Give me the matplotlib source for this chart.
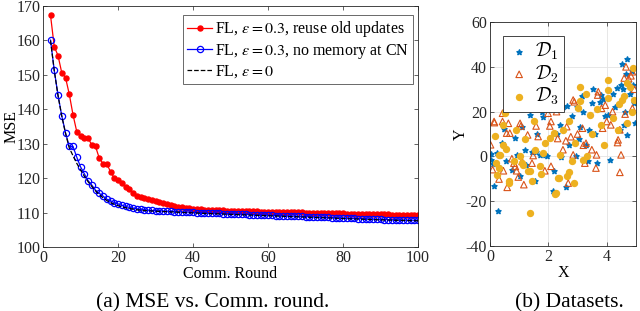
import matplotlib
matplotlib.use("Agg")
import matplotlib.pyplot as plt
from matplotlib.font_manager import FontProperties

plt.rcParams["font.family"] = ["Liberation Serif", "DejaVu Serif"]
plt.rcParams["mathtext.fontset"] = "stix"
plt.rcParams["axes.unicode_minus"] = False
plt.rcParams["font.size"] = 11.5

# ---- (a) MSE vs communication round ----
rounds = list(range(2, 101))

mse_reuse = [167.3, 158.2, 155.6, 150.6, 149.2, 144.4, 138.4, 133.5, 132.1, 131.8,
             131.6, 129.7, 129.2, 125.8, 124.2, 124.1, 121.9, 120.0, 119.5, 118.7,
             117.3, 116.8, 115.8, 114.9, 114.5, 114.2, 113.9, 113.6, 113.3, 113.0,
             112.7, 112.4, 112.1, 111.9, 111.7, 111.5, 111.3, 111.2, 111.1, 111.0,
             110.9, 110.85, 110.8, 110.75, 110.7, 110.65, 110.6, 110.55, 110.5, 110.48,
             110.45, 110.42, 110.4, 110.37, 110.34, 110.32, 110.3, 110.27, 110.25, 110.22,
             110.2, 110.17, 110.14, 110.12, 110.1, 110.07, 110.04, 110.02, 110.0, 109.97,
             109.94, 109.92, 109.9, 109.87, 109.84, 109.82, 109.8, 109.77, 109.74, 109.72,
             109.7, 109.67, 109.64, 109.62, 109.6, 109.57, 109.54, 109.52, 109.5, 109.47,
             109.44, 109.42, 109.4, 109.37, 109.34, 109.32, 109.3, 109.27, 109.25]

mse_nomem = [160.1, 151.3, 144.1, 138.1, 133.2, 129.2, 129.2, 126.1, 123.3, 121.3,
             119.3, 118.0, 116.5, 115.6, 114.8, 113.9, 113.4, 112.9, 112.5, 112.1,
             111.8, 111.5, 111.3, 111.1, 110.9, 110.8, 110.7, 110.6, 110.55, 110.5,
             110.45, 110.4, 110.35, 110.3, 110.25, 110.2, 110.15, 110.1, 110.05, 110.0,
             109.95, 109.9, 109.86, 109.82, 109.78, 109.74, 109.7, 109.66, 109.62, 109.58,
             109.54, 109.5, 109.46, 109.42, 109.38, 109.34, 109.3, 109.26, 109.22, 109.18,
             109.14, 109.1, 109.06, 109.02, 108.98, 108.94, 108.9, 108.86, 108.82, 108.78,
             108.74, 108.7, 108.66, 108.62, 108.58, 108.54, 108.5, 108.46, 108.42, 108.38,
             108.34, 108.3, 108.26, 108.22, 108.18, 108.14, 108.1, 108.06, 108.02, 107.98,
             107.95, 107.92, 107.89, 107.86, 107.83, 107.8, 107.78, 107.76, 107.74]

mse_ideal = [160.0, 151.2, 144.0, 138.0, 133.0, 128.8, 126.5, 124.3, 122.4, 120.6,
             119.0, 117.6, 116.3, 115.2, 114.3, 113.5, 112.9, 112.4, 112.0, 111.7,
             111.4, 111.2, 111.0, 110.8, 110.7, 110.6, 110.5, 110.45, 110.4, 110.35,
             110.3, 110.25, 110.2, 110.15, 110.1, 110.05, 110.0, 109.95, 109.9, 109.85,
             109.8, 109.76, 109.72, 109.68, 109.64, 109.6, 109.56, 109.52, 109.48, 109.44,
             109.4, 109.36, 109.32, 109.28, 109.24, 109.2, 109.16, 109.12, 109.08, 109.04,
             109.0, 108.96, 108.92, 108.88, 108.84, 108.8, 108.76, 108.72, 108.68, 108.64,
             108.6, 108.56, 108.52, 108.48, 108.44, 108.4, 108.36, 108.32, 108.28, 108.24,
             108.2, 108.16, 108.12, 108.08, 108.04, 108.0, 107.96, 107.92, 107.88, 107.85,
             107.82, 107.79, 107.76, 107.73, 107.7, 107.68, 107.66, 107.64, 107.62]

# ---- (b) datasets ----
d1_x = [0.02, 0.11, 0.14, 0.28, 0.25, 0.05, 0.35, 0.48, 0.55, 0.86, 0.91, 1.03, 1.09, 1.20, 1.37,
        1.45, 1.54, 1.58, 1.71, 1.77, 1.83, 1.88, 1.94, 2.05, 2.17, 2.20, 2.30, 2.45, 2.50, 2.59,
        2.65, 2.70, 2.80, 2.95, 2.97, 3.05, 3.08, 3.15, 3.20, 3.37, 3.40, 3.50, 3.52, 3.60, 3.65,
        3.77, 3.82, 3.88, 3.95, 4.05, 4.11, 4.20, 4.30, 4.34, 4.45, 4.50, 4.54, 4.56, 4.62, 4.66,
        4.68, 4.68, 4.74, 4.80, 4.90, 4.97, 4.95, 4.60, 1.25, 0.75, 2.40, 3.30, 1.60, 0.40, 4.85]
d1_y = [-1.5, -3.4, -13.3, -24.4, 1.5, 1.0, -5.0, 12.3, -2.0, 8.1, 0.7, -8.9, 13.3, 3.0, 18.5,
        2.0, -11.1, 1.9, 0.7, 20.0, 17.8, 0.7, 0.4, 25.0, -15.6, -6.4, 10.0, -0.4, 22.0, -13.8,
        22.7, 5.0, 18.0, 0.4, 22.2, 8.0, 13.3, 27.0, 20.0, -2.2, 12.0, 24.0, 30.0, 10.0, -3.0,
        24.4, 27.4, 25.5, 18.0, 18.5, -1.5, 28.0, 22.0, 30.4, 11.9, 32.0, 41.5, 30.0, 20.0, 36.7,
        9.6, 43.7, 32.6, 28.0, 32.0, 14.8, 24.0, 14.0, -4.0, -6.0, 14.0, 5.0, 10.0, 6.0, 38.0]

d2_x = [0.02, 0.09, 0.14, 0.15, 0.31, 0.43, 0.43, 0.46, 0.57, 0.59, 0.63, 0.68, 0.82, 0.87, 0.91,
        0.97, 1.03, 1.06, 1.16, 1.29, 1.44, 1.48, 1.58, 1.65, 1.88, 1.99, 2.05, 2.09, 2.09, 2.28,
        2.32, 2.60, 2.63, 2.68, 2.77, 2.85, 2.85, 2.89, 3.17, 3.20, 3.25, 3.29, 3.49, 3.63, 3.65,
        3.69, 3.71, 3.82, 3.86, 3.95, 4.00, 4.14, 4.37, 4.39, 4.45, 4.45, 4.49, 4.60, 4.63, 4.66,
        4.75, 4.83, 4.88, 4.88, 4.95, 1.10, 0.75, 2.50, 3.00, 4.20]
d2_y = [5.2, -5.9, 15.6, 15.1, -10.1, 15.6, 19.3, -6.4, 10.4, -13.8, 14.8, 10.4, -3.0, -4.5, -6.4,
        -9.2, 14.8, 13.6, -12.6, 9.6, -3.0, 0.4, 13.6, 8.9, -6.4, 19.3, 13.6, -4.4, 15.6, 20.0,
        8.0, 7.0, 13.3, -11.9, 8.8, 0.7, 25.2, 24.4, 12.6, 5.0, -3.0, 5.9, 3.0, -5.2, 0.7,
        27.4, 28.9, 21.5, 12.6, 22.9, 15.6, 14.1, 6.2, 7.4, 11.9, -7.1, 0.7, 35.0, 18.9, 40.0,
        34.8, 36.0, 37.8, 21.5, 30.0, -2.2, -1.0, 3.0, 10.0, 20.0]

d3_x = [0.17, 0.25, 0.31, 0.32, 0.34, 0.43, 0.43, 0.51, 0.51, 0.56, 0.64, 0.66, 0.82, 1.03, 1.08,
        1.14, 1.31, 1.37, 1.37, 1.43, 1.54, 1.65, 1.71, 1.83, 1.90, 2.00, 2.05, 2.19, 2.23, 2.26,
        2.34, 2.37, 2.40, 2.63, 2.70, 2.70, 2.80, 2.88, 3.02, 3.08, 3.10, 3.20, 3.29, 3.31, 3.42,
        3.50, 3.67, 3.80, 4.05, 4.05, 4.05, 4.20, 4.43, 4.51, 4.60, 4.68, 4.80, 4.91, 4.95, 4.85,
        0.90, 1.20, 1.50, 2.50, 3.90, 4.40, 0.20, 1.75, 2.90, 4.70]
d3_y = [9.3, -8.1, -5.0, 0.7, 0.7, 14.1, 5.2, 19.3, 20.0, 3.5, -10.8, -11.9, -2.2, 0.0, -3.0,
        -3.7, -6.4, -6.7, -25.2, -11.1, 3.0, 22.2, -4.4, 1.5, 6.0, 22.2, 8.4, 10.4, -16.7, -16.3,
        -9.6, -9.6, 0.7, -8.9, -7.0, 16.0, -2.2, -11.9, 21.5, 24.7, 31.1, -1.5, 28.1, 0.0, 18.7,
        10.0, 21.0, 14.0, 34.1, 29.6, 25.9, 17.0, 23.3, 25.2, 27.0, 33.0, 31.0, 39.3, 25.0, 20.0,
        12.0, 8.0, 16.0, 12.0, 5.0, 12.0, -3.0, -8.0, 6.0, 15.0]

ax_col = "#262626"

fig = plt.figure(figsize=(6.4, 3.11), dpi=100)
ax1 = fig.add_axes([0.0672, 0.2058, 0.586, 0.775])
ax2 = fig.add_axes([0.7656, 0.209, 0.228, 0.72])

for ax in (ax1, ax2):
    for sp in ax.spines.values():
        sp.set_color(ax_col)
        sp.set_linewidth(0.6)
    ax.tick_params(direction="in", top=True, right=True, length=3, width=0.5,
                   colors=ax_col, labelsize=11.5, pad=2)

ax1.plot(rounds, mse_reuse, "-", color="red", marker="o", ms=3.6, lw=0.9,
         label=r"FL, $\epsilon = 0.3$, reuse old updates")
ax1.plot(rounds, mse_nomem, "-", color="blue", marker="o", mfc="none", ms=4.5, mew=0.9, lw=0.9,
         label=r"FL, $\epsilon = 0.3$, no memory at CN")
ax1.plot(rounds, mse_ideal, "--", color="black", lw=0.9, label=r"FL, $\epsilon = 0$")
ax1.set_xlim(0, 100)
ax1.set_ylim(100, 170)
ax1.set_xticks([0, 20, 40, 60, 80, 100])
ax1.set_yticks([100, 110, 120, 130, 140, 150, 160, 170])
ax1.set_xlabel("Comm. Round", labelpad=0)
ax1.set_ylabel("MSE")
ax1.yaxis.set_label_coords(-0.063, 0.5)
leg = ax1.legend(loc="upper right", bbox_to_anchor=(0.995, 0.975), handlelength=1.6,
                 handletextpad=0.15, borderpad=0.25, labelspacing=0.15, borderaxespad=0.2,
                 fancybox=False, fontsize=11.5)
leg.get_frame().set_edgecolor(ax_col)
leg.get_frame().set_linewidth(0.6)

ax2.scatter(d1_x, d1_y, marker="*", s=14, color="#0072BD", edgecolors="#0072BD",
            linewidths=1.1, label=r"$\mathcal{D}_1$")
ax2.scatter(d2_x, d2_y, marker="^", s=22, facecolors="none", edgecolors="#D95319",
            linewidths=0.8, label=r"$\mathcal{D}_2$")
ax2.scatter(d3_x, d3_y, marker="o", s=28, color="#EDB120", linewidths=0, label=r"$\mathcal{D}_3$")
ax2.set_xlim(0, 5)
ax2.set_ylim(-40, 60)
ax2.set_xticks([0, 2, 4])
ax2.set_yticks([-40, -20, 0, 20, 40, 60])
ax2.grid(True, color="#e3e3e3", lw=0.6)
ax2.set_axisbelow(True)
ax2.set_xlabel("X", labelpad=0)
ax2.set_ylabel("Y")
ax2.yaxis.set_label_coords(-0.145, 0.5)
leg2 = ax2.legend(loc="upper left", bbox_to_anchor=(0.02, 0.98), fancybox=False,
                  handletextpad=0.2, borderpad=0.25, labelspacing=0.05, handlelength=1.2,
                  prop=FontProperties(size=14, math_fontfamily="cm"))
leg2.get_frame().set_edgecolor(ax_col)
leg2.get_frame().set_linewidth(0.6)
leg2.get_frame().set_alpha(1)

fig.text(0.332, 0.012, "(a) MSE vs. Comm. round.", ha="center", va="baseline", fontsize=15.5)
fig.text(0.89, 0.012, "(b) Datasets.", ha="center", va="baseline", fontsize=15.5)

fig.savefig("out.png", dpi=100)
